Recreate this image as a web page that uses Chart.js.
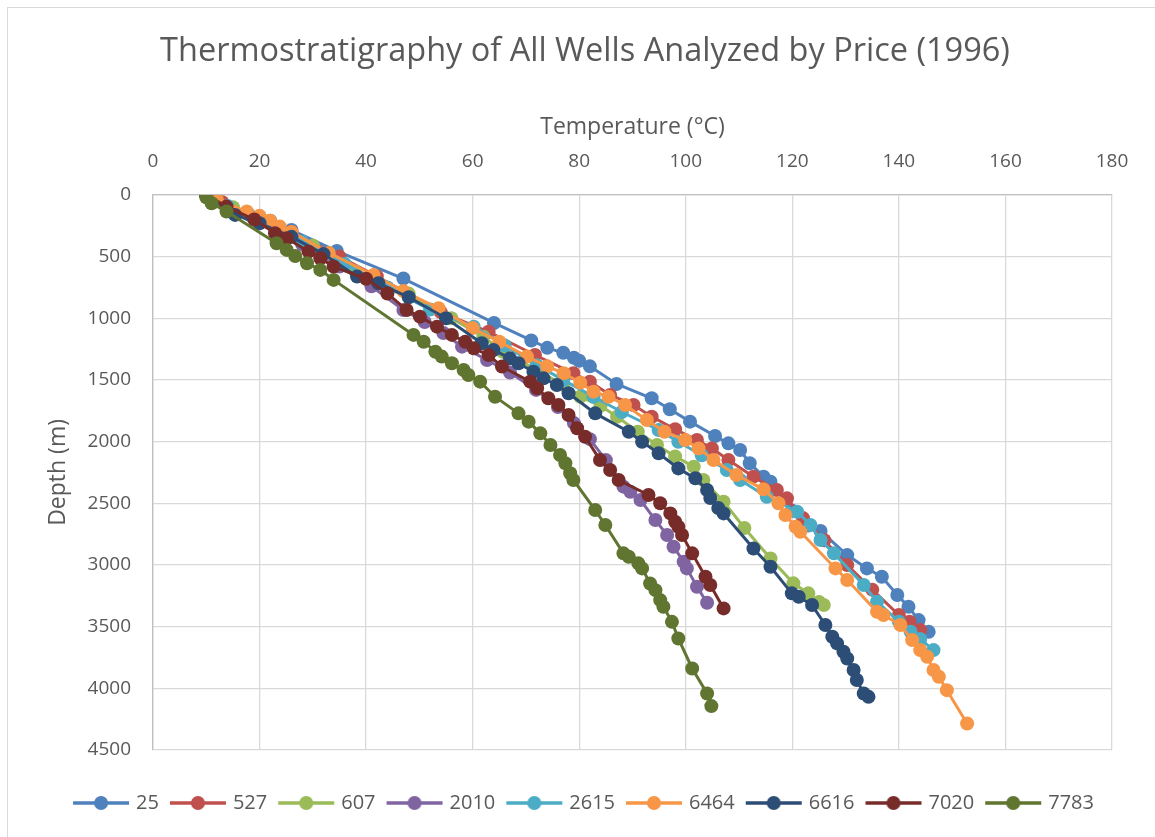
<!DOCTYPE html>
<html>
<head>
  <meta charset="UTF-8">
  <title>Thermostratigraphy of All Wells</title>
  <style>
    body { margin: 0; background: #fff; }
    #wrap { width: 1155px; height: 837px; }
  </style>
  <script src="https://cdn.jsdelivr.net/npm/chart.js"></script>
</head>
<body>
  <div id="wrap"><canvas id="chart" width="1155" height="837"></canvas></div>

  <script>
    // well names (legend order)
    const wells = ['25', '527', '607', '2010', '2615', '6464', '6616', '7020', '7783'];
    const colors = ['#4F81BD', '#C0504D', '#9BBB59', '#8064A2', '#4BACC6', '#F79646', '#2C4D75', '#772C2A', '#5F7530'];

    // [temperature °C, depth m]
    const well25 = [[10,0],[18,160],[22,210],[26,285],[34.5,455],[47,678],[64,1038],[71,1180],[74,1240],[77,1280],[79,1320],[80,1345],[82,1390],[87,1533],[93.6,1649],[97,1738],[100.8,1838],[105.5,1955],[108,2014],[110.2,2068],[112,2175],[114.6,2284],[115.9,2325],[120,2560],[123,2680],[125.3,2725],[130.3,2920],[134,3028],[136.8,3096],[139.7,3244],[141.8,3339],[143.7,3447],[145.6,3542]];
    const well527 = [[10,0],[13,60],[20,180],[26,300],[35,500],[42,660],[54,950],[63,1110],[71.7,1298],[78.9,1446],[82,1514],[85.8,1622],[90.2,1703],[93.6,1798],[98,1900],[102.1,1987],[104.9,2055],[108,2149],[112.7,2284],[117.1,2392],[119,2460],[122,2620],[126,2800],[130.3,3001],[135,3200],[140,3406],[142,3460],[144,3528]];
    const well607 = [[10,0],[15,100],[22,230],[30,410],[38,620],[48,800],[56,1000],[62,1150],[65.7,1271],[72,1420],[77,1540],[80.2,1636],[84,1710],[87.1,1798],[91,1920],[94.6,2028],[98,2120],[101.5,2203],[103.3,2311],[107.1,2487],[111,2700],[115.9,2947],[120.2,3149],[123,3230],[125,3300],[125.9,3325]];
    const well2010 = [[10,0],[14,100],[20,220],[28,400],[35,580],[41,740],[47,933],[51,1030],[54.5,1120],[58,1230],[62.7,1338],[67,1440],[71.9,1581],[76,1720],[79,1850],[82,1980],[85,2150],[88.3,2365],[89.6,2406],[91.5,2474],[94.3,2636],[96.5,2757],[97.7,2852],[99.6,2974],[100.2,3028],[102.1,3177],[104,3306]];
    const well2615 = [[10,0],[14,90],[20,200],[28,380],[36,560],[44,750],[52,930],[60.2,1068],[66,1220],[72,1380],[77,1500],[82.7,1636],[88,1760],[94.9,1906],[98.6,2001],[103,2110],[107.7,2230],[110.2,2311],[115.2,2447],[120.9,2568],[123.4,2676],[125.3,2798],[127.8,2906],[133.4,3163],[135.9,3298],[140,3460],[142.2,3541],[144,3600],[146.5,3690]];
    const well6464 = [[10,0],[12,40],[17.6,135],[20,170],[22,210],[23.8,257],[26,300],[33,470],[41.4,649],[47,780],[53.6,919],[60,1080],[65,1190],[70.2,1311],[74,1390],[77.1,1446],[80.2,1522],[82.7,1595],[85.5,1636],[88.6,1703],[92.7,1825],[96,1920],[99.9,1987],[102.4,2055],[105.2,2149],[109.5,2271],[114.6,2387],[117.4,2500],[118.7,2595],[120.6,2690],[121.5,2731],[128.1,3028],[130.3,3122],[135.9,3379],[137.1,3406],[140.3,3487],[142.5,3609],[144,3690],[145.3,3744],[146.5,3852],[147.5,3906],[149,4015],[152.8,4285]];
    const well6616 = [[10,0],[15.4,162],[20,230],[26,340],[32,480],[38.3,662],[42.3,716],[48,830],[55,1000],[61.7,1203],[63.9,1257],[67,1325],[68.6,1365],[71.4,1433],[73.3,1487],[75.8,1541],[78,1608],[83,1771],[89.3,1920],[91.8,2001],[94.9,2095],[98.6,2217],[101.8,2298],[104,2392],[104.6,2457],[106.1,2538],[107.1,2582],[112.7,2866],[115.9,3014],[119.9,3230],[121.2,3258],[123.7,3325],[126.2,3487],[127.5,3582],[128.4,3636],[129.6,3704],[130.3,3758],[131.5,3852],[132.1,3933],[133.4,4042],[134.3,4069]];
    const well7020 = [[10,0],[13.8,95],[19,200],[22.9,311],[25.1,351],[29.2,460],[31.4,513],[33.9,581],[40,680],[44,800],[47.6,933],[50.1,987],[53.3,1068],[56.1,1135],[58.6,1190],[60.2,1244],[63,1298],[65.5,1392],[70.8,1514],[72.1,1568],[74.2,1649],[76.1,1703],[78,1784],[79.6,1892],[81.1,1960],[83.9,2149],[85.8,2230],[87.4,2311],[93,2433],[95.2,2500],[97.1,2582],[98,2650],[98.6,2690],[99.3,2757],[101.2,2906],[103.7,3096],[104.6,3163],[107.1,3352]];
    const well7783 = [[10,20],[11,68],[13.8,135],[23.2,392],[25.1,446],[26.7,495],[28.9,554],[31.4,608],[33.9,689],[48.9,1135],[50.8,1190],[53,1271],[54.2,1311],[56.1,1365],[58.3,1419],[59.2,1460],[61.4,1514],[64.2,1636],[68.6,1771],[70.5,1838],[72.7,1933],[74.6,2028],[76.4,2109],[77.4,2176],[78.3,2257],[78.9,2311],[83,2555],[84.9,2676],[88.3,2906],[89.3,2933],[91.1,2987],[91.8,3028],[93.3,3150],[94.3,3204],[95.2,3285],[95.8,3339],[97.4,3461],[98.6,3596],[101.2,3839],[104,4042],[104.8,4144]];

    const series = [well25, well527, well607, well2010, well2615, well6464, well6616, well7020, well7783];

    const FONT = 'Open Sans';
    const GREY = '#595959';

    // little "line with a dot" picture for the legend, like Excel draws it
    function legendMark(color) {
      const c = document.createElement('canvas');
      c.width = 58; c.height = 16;
      const g = c.getContext('2d');
      g.strokeStyle = color;
      g.lineWidth = 3.5;
      g.beginPath(); g.moveTo(1, 8); g.lineTo(57, 8); g.stroke();
      g.fillStyle = color;
      g.beginPath(); g.arc(29, 8, 7, 0, Math.PI * 2); g.fill();
      return c;
    }

    const datasets = wells.map((name, i) => ({
      label: name,
      data: series[i].map(p => ({ x: p[0], y: p[1] })),
      borderColor: colors[i],
      backgroundColor: colors[i],
      borderWidth: 3,
      pointRadius: 7,
      pointBorderWidth: 0,
      showLine: true,
      order: wells.length - i   // last series on top, as in Excel
    }));

    const frame = {
      id: 'frame',
      beforeDraw(chart) {
        const ctx = chart.ctx;
        ctx.save();
        ctx.fillStyle = '#fff';
        ctx.fillRect(0, 0, chart.width, chart.height);
        ctx.strokeStyle = '#d9d9d9';
        ctx.lineWidth = 1;
        ctx.strokeRect(7.5, 7.5, 1200, 900);
        ctx.restore();
      }
    };

    new Chart(document.getElementById('chart'), {
      type: 'scatter',
      data: { datasets },
      options: {
        responsive: false,
        animation: false,
        layout: { padding: { left: 15, right: 0, top: 0, bottom: 14 } },
        plugins: {
          title: {
            display: true,
            text: 'Thermostratigraphy of All Wells Analyzed by Price (1996)',
            color: GREY,
            font: { family: FONT, size: 32.5, weight: 'normal' },
            padding: { top: 32.5, bottom: 7 }
          },
          legend: {
            position: 'bottom',
            labels: {
              color: GREY,
              font: { family: FONT, size: 20 },
              usePointStyle: true,
              pointStyleWidth: 50,
              padding: 14,
              generateLabels(chart) {
                return chart.data.datasets.map((ds, i) => ({
                  text: ds.label,
                  fillStyle: ds.backgroundColor,
                  strokeStyle: ds.borderColor,
                  lineWidth: 0,
                  pointStyle: legendMark(ds.borderColor),
                  fontColor: GREY,
                  hidden: false,
                  datasetIndex: i
                }));
              }
            }
          },
          tooltip: { enabled: false }
        },
        scales: {
          x: {
            type: 'linear',
            position: 'top',
            min: 0,
            max: 180,
            ticks: { stepSize: 20, color: GREY, font: { family: FONT, size: 19 }, padding: 21.6 },
            grid: { color: '#d9d9d9', lineWidth: 1.3, drawTicks: false },
            border: { color: '#bfbfbf', width: 1.3 },
            title: {
              display: true,
              text: 'Temperature (°C)',
              color: GREY,
              font: { family: FONT, size: 23 },
              padding: { top: 35.6 }
            },
            afterFit(s) { s.height = 116.4; }
          },
          // empty axis used only as a gap between plot and legend
          x2: {
            type: 'linear',
            position: 'bottom',
            ticks: { display: false },
            grid: { display: false, drawTicks: false },
            border: { display: false },
            afterFit(s) { s.height = 29; }
          },
          y: {
            type: 'linear',
            reverse: true,
            min: 0,
            max: 4500,
            ticks: { stepSize: 500, color: GREY, font: { family: FONT, size: 19 }, padding: 22, format: { useGrouping: false } },
            grid: { color: '#d9d9d9', lineWidth: 1.3, drawTicks: false },
            border: { color: '#bfbfbf', width: 1.3 },
            title: {
              display: true,
              text: 'Depth (m)',
              color: GREY,
              font: { family: FONT, size: 23 },
              padding: { top: 29.2 }
            },
            afterFit(s) { s.width = 138; }
          },
          // empty axis on the right, keeps the plot edge at 180 °C where the picture has it
          y2: {
            type: 'linear',
            position: 'right',
            ticks: { display: false },
            grid: { display: false, drawTicks: false },
            border: { display: false },
            afterFit(s) { s.width = 43; }
          }
        }
      },
      plugins: [frame]
    });
  </script>
</body>
</html>
